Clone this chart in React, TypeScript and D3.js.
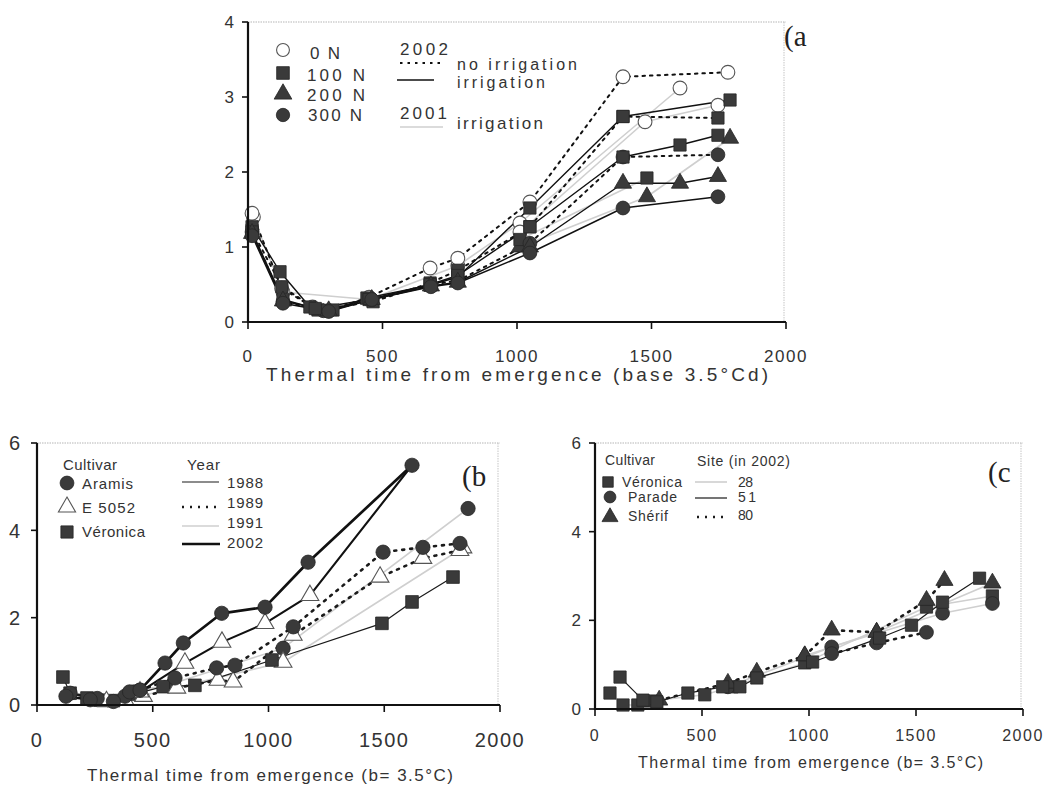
import React from "react";
import * as d3 from "d3";

// ---------------- Panel (a) data : [thermal time, value] ----------------
const A_X_TICKS = [0, 500, 1000, 1500, 2000];
const A_Y_TICKS = [0, 1, 2, 3, 4];
const A_0N_DRY = [[15, 1.45], [125, 0.45], [240, 0.2], [300, 0.15], [450, 0.33], [677, 0.72], [780, 0.85], [1048, 1.6], [1394, 3.27], [1784, 3.33]];
const A_100N_IRR = [[15, 1.27], [119, 0.67], [230, 0.2], [316, 0.16], [442, 0.32], [677, 0.49], [780, 0.6], [1048, 1.52], [1394, 2.74], [1792, 2.96]];
const A_100N_DRY = [[15, 1.22], [126, 0.47], [260, 0.16], [465, 0.27], [677, 0.52], [780, 0.69], [1048, 1.27], [1394, 2.74], [1747, 2.72]];
const A_100N_IRR_B = [[15, 1.2], [130, 0.3], [250, 0.18], [450, 0.3], [677, 0.5], [780, 0.62], [1048, 1.27], [1394, 2.2], [1606, 2.36], [1747, 2.49]];
const A_300N_DRY = [[15, 1.2], [130, 0.27], [280, 0.15], [460, 0.3], [680, 0.5], [780, 0.55], [1048, 1.05], [1394, 2.2], [1747, 2.23]];
const A_200N_IRR = [[15, 1.18], [130, 0.28], [300, 0.15], [460, 0.3], [680, 0.48], [780, 0.53], [1048, 1.0], [1394, 1.85], [1606, 1.85], [1747, 1.94]];
const A_300N_IRR = [[15, 1.15], [130, 0.25], [300, 0.14], [460, 0.3], [680, 0.47], [780, 0.52], [1048, 0.92], [1394, 1.52], [1747, 1.67]];
const A_2001_0N = [[20, 1.4], [130, 0.4], [450, 0.3], [780, 0.75], [1011, 1.32], [1606, 3.12]];
const A_2001_0N_B = [[1011, 1.2], [1476, 2.67], [1747, 2.89]];
const A_2001_200N = [[1011, 1.0], [1483, 1.67], [1792, 2.45]];
const A_2001_100N = [[1011, 1.1], [1483, 1.92]];

// ---------------- Panel (b) data ----------------
const B_X_TICKS = [0, 500, 1000, 1500, 2000];
const B_Y_TICKS = [0, 2, 4, 6];
const B_ARAMIS_2002 = [[125, 0.2], [230, 0.12], [330, 0.08], [400, 0.3], [445, 0.34], [553, 0.96], [632, 1.42], [798, 2.1], [985, 2.24], [1171, 3.27], [1620, 5.49]];
const B_E5052_2002 = [[445, 0.3], [639, 0.96], [799, 1.44], [985, 1.87], [1179, 2.51], [1620, 5.49]];
const B_ARAMIS_1989 = [[143, 0.27], [260, 0.15], [380, 0.2], [445, 0.34], [596, 0.62], [776, 0.85], [855, 0.91], [1107, 1.79], [1495, 3.5], [1667, 3.61], [1827, 3.7]];
const B_E5052_1989 = [[300, 0.08], [460, 0.2], [604, 0.39], [782, 0.57], [847, 0.53], [1107, 1.6], [1482, 2.93], [1667, 3.36], [1827, 3.54]];
const B_ARAMIS_1991 = [[420, 0.3], [590, 0.5], [1063, 1.3], [1862, 4.5]];
const B_E5052_1991 = [[380, 0.12], [1063, 0.98], [1840, 3.6]];
const B_VER_1988 = [[112, 0.64], [143, 0.27], [216, 0.16], [272, 0.11], [330, 0.1], [420, 0.25], [545, 0.42], [682, 0.45], [1015, 1.03], [1490, 1.87], [1620, 2.36], [1797, 2.93]];

// ---------------- Panel (c) data ----------------
const C_X_TICKS = [0, 500, 1000, 1500, 2000];
const C_Y_TICKS = [0, 2, 4, 6];
const C_VER_51 = [[117, 0.72], [224, 0.2], [289, 0.16], [434, 0.36], [597, 0.5], [677, 0.5], [756, 0.7], [1017, 1.06], [1330, 1.6], [1479, 1.89], [1624, 2.41], [1797, 2.95]];
const C_VER_28 = [[70, 0.36], [131, 0.09], [200, 0.09], [260, 0.18], [513, 0.32], [640, 0.5], [980, 1.04], [1549, 2.3], [1857, 2.55]];
const C_SHE_80 = [[300, 0.2], [621, 0.58], [756, 0.83], [980, 1.2], [1106, 1.78], [1316, 1.73], [1549, 2.45], [1633, 2.9]];
const C_PAR_28 = [[621, 0.5], [1106, 1.4], [1624, 2.16], [1857, 2.38]];
const C_PAR_80 = [[1106, 1.25], [1316, 1.49], [1549, 1.73]];
const C_SHE_28 = [[980, 1.2], [1316, 1.73], [1857, 2.84]];

// ---------------- styles ----------------
const LINE: Record<string, { stroke: string; width: number; dash?: string }> = {
  dry: { stroke: "#111", width: 2, dash: "2.5,5" },
  irr: { stroke: "#111", width: 1.4 },
  gray: { stroke: "#cfcfcf", width: 1.6 },
  thin: { stroke: "#1a1a1a", width: 1.2 },
  dot: { stroke: "#1a1a1a", width: 2.6, dash: "2,6" },
  mid: { stroke: "#111", width: 2.1 },
  thick: { stroke: "#111", width: 2.7 },
};

type Series = { data: number[][]; line: string; marker: string; skipLast?: boolean };

const A_SERIES: Series[] = [
  { data: A_2001_0N, line: "gray", marker: "oc" },
  { data: A_2001_0N_B, line: "gray", marker: "oc" },
  { data: A_2001_200N, line: "gray", marker: "tr" },
  { data: A_2001_100N, line: "gray", marker: "sq" },
  { data: A_0N_DRY, line: "dry", marker: "oc" },
  { data: A_100N_DRY, line: "dry", marker: "sq" },
  { data: A_300N_DRY, line: "dry", marker: "ci" },
  { data: A_100N_IRR, line: "irr", marker: "sq" },
  { data: A_100N_IRR_B, line: "irr", marker: "sq" },
  { data: A_200N_IRR, line: "irr", marker: "tr" },
  { data: A_300N_IRR, line: "irr", marker: "ci" },
];
const B_SERIES: Series[] = [
  { data: B_ARAMIS_1991, line: "gray", marker: "ci" },
  { data: B_E5052_1991, line: "gray", marker: "ot" },
  { data: B_VER_1988, line: "thin", marker: "sq" },
  { data: B_E5052_1989, line: "dot", marker: "ot" },
  { data: B_ARAMIS_1989, line: "dot", marker: "ci" },
  { data: B_E5052_2002, line: "mid", marker: "ot", skipLast: true },
  { data: B_ARAMIS_2002, line: "thick", marker: "ci" },
];
const C_SERIES: Series[] = [
  { data: C_VER_28, line: "gray", marker: "sq" },
  { data: C_PAR_28, line: "gray", marker: "ci" },
  { data: C_SHE_28, line: "gray", marker: "tr" },
  { data: C_SHE_80, line: "dot", marker: "tr" },
  { data: C_PAR_80, line: "dot", marker: "ci" },
  { data: C_VER_51, line: "thin", marker: "sq" },
];

const SANS = "'Liberation Sans', Arial, sans-serif";
const SERIF = "'Liberation Serif', 'Times New Roman', serif";

function Marker({ shape, x, y, size }: { shape: string; x: number; y: number; size: number }) {
  const type = shape === "sq" ? d3.symbolSquare : shape === "tr" || shape === "ot" ? d3.symbolTriangle : d3.symbolCircle;
  const s = shape === "tr" || shape === "ot" ? size * 0.85 : size;
  const d = d3.symbol().type(type).size(s)() as string;
  const open = shape === "oc" || shape === "ot";
  return (
    <path
      d={d}
      transform={`translate(${x},${y})`}
      fill={open ? "#fff" : "#3a3a3a"}
      stroke={open ? "#555" : "#262626"}
      strokeWidth={open ? 1.1 : 0.8}
    />
  );
}

function LegendLine({ x1, x2, y, style }: { x1: number; x2: number; y: number; style: string }) {
  const st = LINE[style];
  return <line x1={x1} x2={x2} y1={y} y2={y} stroke={st.stroke} strokeWidth={st.width} strokeDasharray={st.dash} />;
}

type PanelCfg = {
  xRange: [number, number];
  yRange: [number, number];
  yMax: number;
  xTicks: number[];
  yTicks: number[];
  series: Series[];
  msize: number;
  yLabelX: number;
  yFont: number;
  xLabelY: number;
  xFont: number;
  title: string;
  titleX: [number, number];
  titleY: number;
  titleFont: number;
};

function Panel({ p }: { p: PanelCfg }) {
  const x = d3.scaleLinear().domain([0, 2000]).range(p.xRange);
  const y = d3.scaleLinear().domain([0, p.yMax]).range(p.yRange);
  const line = d3.line<number[]>().x((d) => x(d[0])).y((d) => y(d[1]));
  const [x0, x1] = p.xRange;
  const [y0, y1] = p.yRange;
  return (
    <g>
      <line x1={x0} x2={x1} y1={y1} y2={y1} stroke="#b5b5b5" strokeWidth={1} strokeDasharray="1.5,1" />
      <line x1={x1 - 2} x2={x1 - 2} y1={y1} y2={y0} stroke="#c5c5c5" strokeWidth={1} strokeDasharray="1.5,1" />
      {p.series.map((s, i) => {
        const st = LINE[s.line];
        return (
          <path key={"l" + i} d={line(s.data) as string} fill="none" stroke={st.stroke} strokeWidth={st.width} strokeDasharray={st.dash} strokeLinecap="round" strokeLinejoin="round" />
        );
      })}
      {p.series.map((s, i) =>
        s.data.map((d, j) =>
          s.skipLast && j === s.data.length - 1 ? null : (
            <Marker key={`m${i}-${j}`} shape={s.marker} x={x(d[0])} y={y(d[1])} size={p.msize} />
          )
        )
      )}
      <line x1={x0} x2={x0} y1={y1} y2={y0 + 1} stroke="#111" strokeWidth={2.2} />
      <line x1={x0 - 1} x2={x1} y1={y0} y2={y0} stroke="#111" strokeWidth={2.2} />
      {p.yTicks.map((t) => (
        <g key={"yt" + t}>
          <line x1={x0 - 6} x2={x0} y1={y(t)} y2={y(t)} stroke="#111" strokeWidth={1.6} />
          <text x={p.yLabelX} y={y(t)} dy="0.36em" textAnchor="end" fontFamily={SANS} fontSize={p.yFont} fill="#333">
            {t}
          </text>
        </g>
      ))}
      {p.xTicks.map((t) => (
        <g key={"xt" + t}>
          <line x1={x(t)} x2={x(t)} y1={y0} y2={y0 + 7} stroke="#111" strokeWidth={1.6} />
          <text x={x(t)} y={p.xLabelY} textAnchor="middle" fontFamily={SANS} fontSize={p.xFont} fill="#333" letterSpacing={1.5}>
            {t}
          </text>
        </g>
      ))}
      <text x={p.titleX[0]} y={p.titleY} fontFamily={SANS} fontSize={p.titleFont} fill="#333" textLength={p.titleX[1] - p.titleX[0]} lengthAdjust="spacing">
        {p.title}
      </text>
    </g>
  );
}

const PANEL_A: PanelCfg = {
  xRange: [248, 786], yRange: [322, 22], yMax: 4, xTicks: A_X_TICKS, yTicks: A_Y_TICKS, series: A_SERIES, msize: 150,
  yLabelX: 234, yFont: 17, xLabelY: 362, xFont: 17,
  title: "Thermal time from emergence (base 3.5°Cd)", titleX: [266, 768], titleY: 381, titleFont: 19,
};
const PANEL_B: PanelCfg = {
  xRange: [37, 500], yRange: [705, 443], yMax: 6, xTicks: B_X_TICKS, yTicks: B_Y_TICKS, series: B_SERIES, msize: 160,
  yLabelX: 20, yFont: 20, xLabelY: 747, xFont: 20,
  title: "Thermal time from emergence (b= 3.5°C)", titleX: [87, 453], titleY: 781, titleFont: 17,
};
const PANEL_C: PanelCfg = {
  xRange: [595, 1023], yRange: [709, 443], yMax: 6, xTicks: C_X_TICKS, yTicks: C_Y_TICKS, series: C_SERIES, msize: 150,
  yLabelX: 581, yFont: 17, xLabelY: 741, xFont: 16,
  title: "Thermal time from emergence (b= 3.5°C)", titleX: [638, 983], titleY: 768, titleFont: 16,
};

function T({ x, y, w, size, children }: { x: number; y: number; w: number; size: number; children: React.ReactNode }) {
  return (
    <text x={x} y={y} fontFamily={SANS} fontSize={size} fill="#333" textLength={w} lengthAdjust="spacing">
      {children}
    </text>
  );
}

export default function App() {
  return (
    <svg width={1045} height={785} style={{ display: "block", position: "absolute", left: 0, top: 0, background: "#fff" }}>
      <rect width={1045} height={785} fill="#fff" />
      <Panel p={PANEL_A} />
      <Panel p={PANEL_B} />
      <Panel p={PANEL_C} />

      <text x={784} y={46} fontFamily={SERIF} fontSize={29} fill="#222">(a</text>
      <text x={462} y={486} fontFamily={SERIF} fontSize={29} fill="#222">(b</text>
      <text x={988} y={482} fontFamily={SERIF} fontSize={29} fill="#222">(c</text>

      {/* Legend (a) */}
      <Marker shape="oc" x={283} y={50} size={130} />
      <T x={310} y={59} w={30} size={17}>0 N</T>
      <Marker shape="sq" x={283} y={73} size={160} />
      <T x={307} y={81} w={58} size={17}>100 N</T>
      <Marker shape="tr" x={283} y={94} size={160} />
      <T x={307} y={101} w={58} size={17}>200 N</T>
      <Marker shape="ci" x={283} y={115} size={140} />
      <T x={308} y={121} w={54} size={17}>300 N</T>
      <T x={400} y={55} w={48} size={17}>2002</T>
      <LegendLine x1={400} x2={440} y={63} style="dry" />
      <T x={457} y={70} w={120} size={16}>no irrigation</T>
      <LegendLine x1={397} x2={434} y={80} style="irr" />
      <T x={457} y={88} w={88} size={16}>irrigation</T>
      <T x={400} y={119} w={47} size={17}>2001</T>
      <LegendLine x1={400} x2={443} y={127} style="gray" />
      <T x={457} y={129} w={86} size={17}>irrigation</T>

      {/* Legend (b) */}
      <T x={63} y={470} w={54} size={15}>Cultivar</T>
      <Marker shape="ci" x={67} y={483} size={150} />
      <T x={82} y={489} w={51} size={15}>Aramis</T>
      <Marker shape="ot" x={67} y={507} size={150} />
      <T x={82} y={513} w={53} size={15}>E 5052</T>
      <Marker shape="sq" x={67} y={532} size={150} />
      <T x={82} y={537} w={63} size={15}>Véronica</T>
      <T x={187} y={470} w={33} size={15}>Year</T>
      <LegendLine x1={182} x2={219} y={482} style="thin" />
      <LegendLine x1={182} x2={219} y={507} style="dot" />
      <LegendLine x1={182} x2={219} y={526} style="gray" />
      <LegendLine x1={182} x2={220} y={544} style="thick" />
      <T x={227} y={488} w={36} size={15}>1988</T>
      <T x={227} y={508} w={36} size={15}>1989</T>
      <T x={227} y={528} w={36} size={15}>1991</T>
      <T x={227} y={548} w={36} size={15}>2002</T>

      {/* Legend (c) */}
      <T x={605} y={465} w={50} size={14}>Cultivar</T>
      <Marker shape="sq" x={608} y={482} size={110} />
      <T x={622} y={487} w={60} size={14}>Véronica</T>
      <Marker shape="ci" x={610} y={497} size={110} />
      <T x={628} y={502} w={49} size={14}>Parade</T>
      <Marker shape="tr" x={610} y={517} size={130} />
      <T x={628} y={521} w={40} size={14}>Shérif</T>
      <T x={697} y={466} w={93} size={14}>Site (in 2002)</T>
      <LegendLine x1={695} x2={727} y={482} style="gray" />
      <LegendLine x1={695} x2={727} y={498} style="thin" />
      <LegendLine x1={697} x2={727} y={517} style="dot" />
      <T x={738} y={487} w={15} size={14}>28</T>
      <T x={738} y={502} w={18} size={14}>51</T>
      <T x={738} y={520} w={15} size={14}>80</T>
    </svg>
  );
}
